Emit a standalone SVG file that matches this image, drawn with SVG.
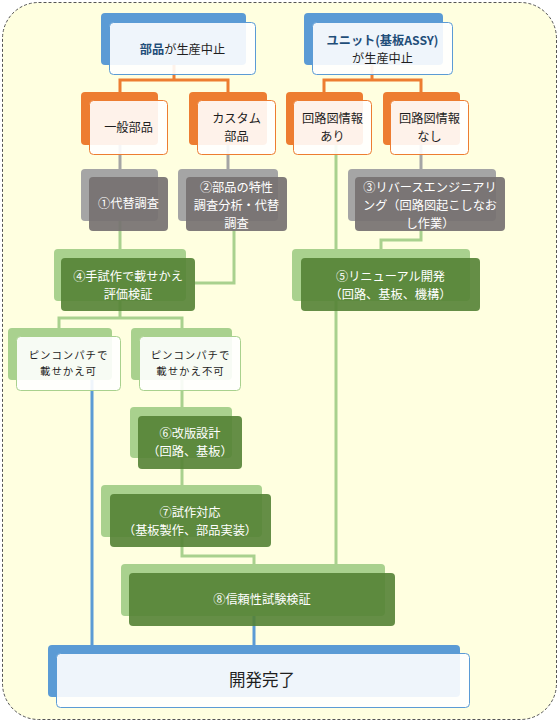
<svg xmlns="http://www.w3.org/2000/svg" width="560" height="723" viewBox="0 0 560 723">
<style>
text{font-family:"Noto Sans CJK JP","Noto Sans",sans-serif;font-size:12.2px;text-anchor:middle;dominant-baseline:central}
.dk{fill:#1e1e1e}.wh{fill:#fff}.tb{fill:#1f4e79;font-weight:bold}
.sm{font-size:10.4px;letter-spacing:1px}
.bb{fill:#5b9bd5}.bf{fill:#fff;fill-opacity:.9;stroke:#5b9bd5;stroke-width:1}
.ob{fill:#ed7d31}.of{fill:#fff;fill-opacity:.9;stroke:#ed7d31;stroke-width:1}
.gb{fill:#a5a5a5}.gf{fill:#767171;fill-opacity:.92}
.lb{fill:#a9d18e}.lf{fill:#fff;fill-opacity:.9;stroke:#a9d18e;stroke-width:1}
.df{fill:#548235;fill-opacity:.9}
.c{fill:none;stroke-width:3}
</style>
<rect x="2.5" y="2.5" width="554" height="717" rx="36" fill="#ffffe0" stroke="#555" stroke-dasharray="3 2" stroke-width="1"/>
<g id="connectors">
<path class="c" stroke="#ed7d31" d="M174 65V80M120 92V80H228V92M372 65V80M324 92V80H421V92"/>
<path class="c" stroke="#a5a5a5" d="M120 145V169M228 145V169M421 145V169"/>
<path class="c" stroke="#a9d18e" d="M336 145V564M120 221V249M234 221V283H195M421 221V240H381V249M120 301V318M59 328V318H182V328M182 380V407M182 458V485M182 537V556H254V564"/>
<path class="c" stroke="#5b9bd5" d="M92 380V645M254 616V645"/>
</g>
<g id="n1">
<rect class="bb" x="101" y="13" width="145" height="52" rx="4"/>
<rect class="bf" x="109.5" y="22.5" width="146" height="52" rx="4"/>
<text x="182.5" y="48.5"><tspan class="tb">部品</tspan><tspan class="dk">が生産中止</tspan></text>
</g>
<g id="n2">
<rect class="bb" x="304" y="13" width="139" height="52" rx="4"/>
<rect class="bf" x="312.5" y="22.5" width="140" height="52" rx="4"/>
<text class="tb" x="382.5" y="39.5">ユニット(基板ASSY)</text>
<text class="dk" x="382.5" y="57.5">が生産中止</text>
</g>
<g id="n3">
<rect class="ob" x="81" y="92" width="77" height="53" rx="4"/>
<rect class="of" x="89.5" y="100.5" width="78" height="54" rx="4"/>
<text class="dk" x="128.5" y="127">一般部品</text>
</g>
<g id="n4">
<rect class="ob" x="189" y="92" width="78" height="53" rx="4"/>
<rect class="of" x="197.5" y="100.5" width="78" height="54" rx="4"/>
<text class="dk" x="236.5" y="118">カスタム</text>
<text class="dk" x="236.5" y="136">部品</text>
</g>
<g id="n5">
<rect class="ob" x="286" y="92" width="77" height="53" rx="4"/>
<rect class="of" x="293.5" y="100.5" width="78" height="54" rx="4"/>
<text class="dk" x="332.5" y="118">回路図情報</text>
<text class="dk" x="332.5" y="136">あり</text>
</g>
<g id="n6">
<rect class="ob" x="383" y="92" width="77" height="53" rx="4"/>
<rect class="of" x="390.5" y="100.5" width="78" height="54" rx="4"/>
<text class="dk" x="429.5" y="118">回路図情報</text>
<text class="dk" x="429.5" y="136">なし</text>
</g>
<g id="s1">
<rect class="gb" x="81" y="169" width="77" height="52" rx="4"/>
<rect class="gf" x="89" y="177" width="79" height="54" rx="4"/>
<text class="wh" x="128.5" y="203">①代替調査</text>
</g>
<g id="s2">
<rect class="gb" x="178" y="169" width="100" height="52" rx="4"/>
<rect class="gf" x="186" y="177" width="101" height="54" rx="4"/>
<text class="wh" x="236.5" y="187">②部品の特性</text>
<text class="wh" x="236.5" y="205">調査分析・代替</text>
<text class="wh" x="236.5" y="223">調査</text>
</g>
<g id="s3">
<rect class="gb" x="348" y="169" width="148" height="52" rx="4"/>
<rect class="gf" x="355" y="177" width="150" height="54" rx="4"/>
<text class="wh" x="430" y="187">③リバースエンジニアリ</text>
<text class="wh" x="430" y="205">ング（回路図起こしなお</text>
<text class="wh" x="430" y="223">し作業）</text>
</g>
<g id="s4">
<rect class="lb" x="54" y="249" width="132" height="52" rx="4"/>
<rect class="df" x="61" y="258" width="134" height="53" rx="4"/>
<text class="wh" x="128" y="275.5">④手試作で載せかえ</text>
<text class="wh" x="128" y="293.5">評価検証</text>
</g>
<g id="s5">
<rect class="lb" x="292" y="249" width="178" height="52" rx="4"/>
<rect class="df" x="301" y="258" width="179" height="53" rx="4"/>
<text class="wh" x="390.5" y="275.5">⑤リニューアル開発</text>
<text class="wh" x="390.5" y="293.5">（回路、基板、機構）</text>
</g>
<g id="p1">
<rect class="lb" x="8" y="328" width="104" height="52" rx="4"/>
<rect class="lf" x="16.5" y="336.5" width="104" height="54" rx="4"/>
<text class="dk sm" x="68.5" y="354.5">ピンコンパチで</text>
<text class="dk sm" x="68.5" y="370.5">載せかえ可</text>
</g>
<g id="p2">
<rect class="lb" x="131" y="328" width="101" height="52" rx="4"/>
<rect class="lf" x="139.5" y="336.5" width="101" height="54" rx="4"/>
<text class="dk sm" x="190.5" y="354.5">ピンコンパチで</text>
<text class="dk sm" x="190.5" y="370.5">載せかえ不可</text>
</g>
<g id="s6">
<rect class="lb" x="130" y="407" width="102" height="51" rx="4"/>
<rect class="df" x="138" y="416" width="104" height="53" rx="4"/>
<text class="wh" x="190" y="432.5">⑥改版設計</text>
<text class="wh" x="190" y="450.5">（回路、基板）</text>
</g>
<g id="s7">
<rect class="lb" x="101" y="485" width="161" height="52" rx="4"/>
<rect class="df" x="110" y="494" width="161" height="53" rx="4"/>
<text class="wh" x="190" y="511.5">⑦試作対応</text>
<text class="wh" x="190" y="529.5">（基板製作、部品実装）</text>
</g>
<g id="s8">
<rect class="lb" x="121" y="564" width="264" height="52" rx="4"/>
<rect class="df" x="129" y="573" width="266" height="53" rx="4"/>
<text class="wh" x="262" y="599">⑧信頼性試験検証</text>
</g>
<g id="end">
<rect class="bb" x="48" y="645" width="412" height="52" rx="4"/>
<rect class="bf" x="56.5" y="653.5" width="413" height="54" rx="4" stroke="#2e75b6"/>
<text class="dk" x="262" y="679" style="font-size:16.5px">開発完了</text>
</g>
</svg>
